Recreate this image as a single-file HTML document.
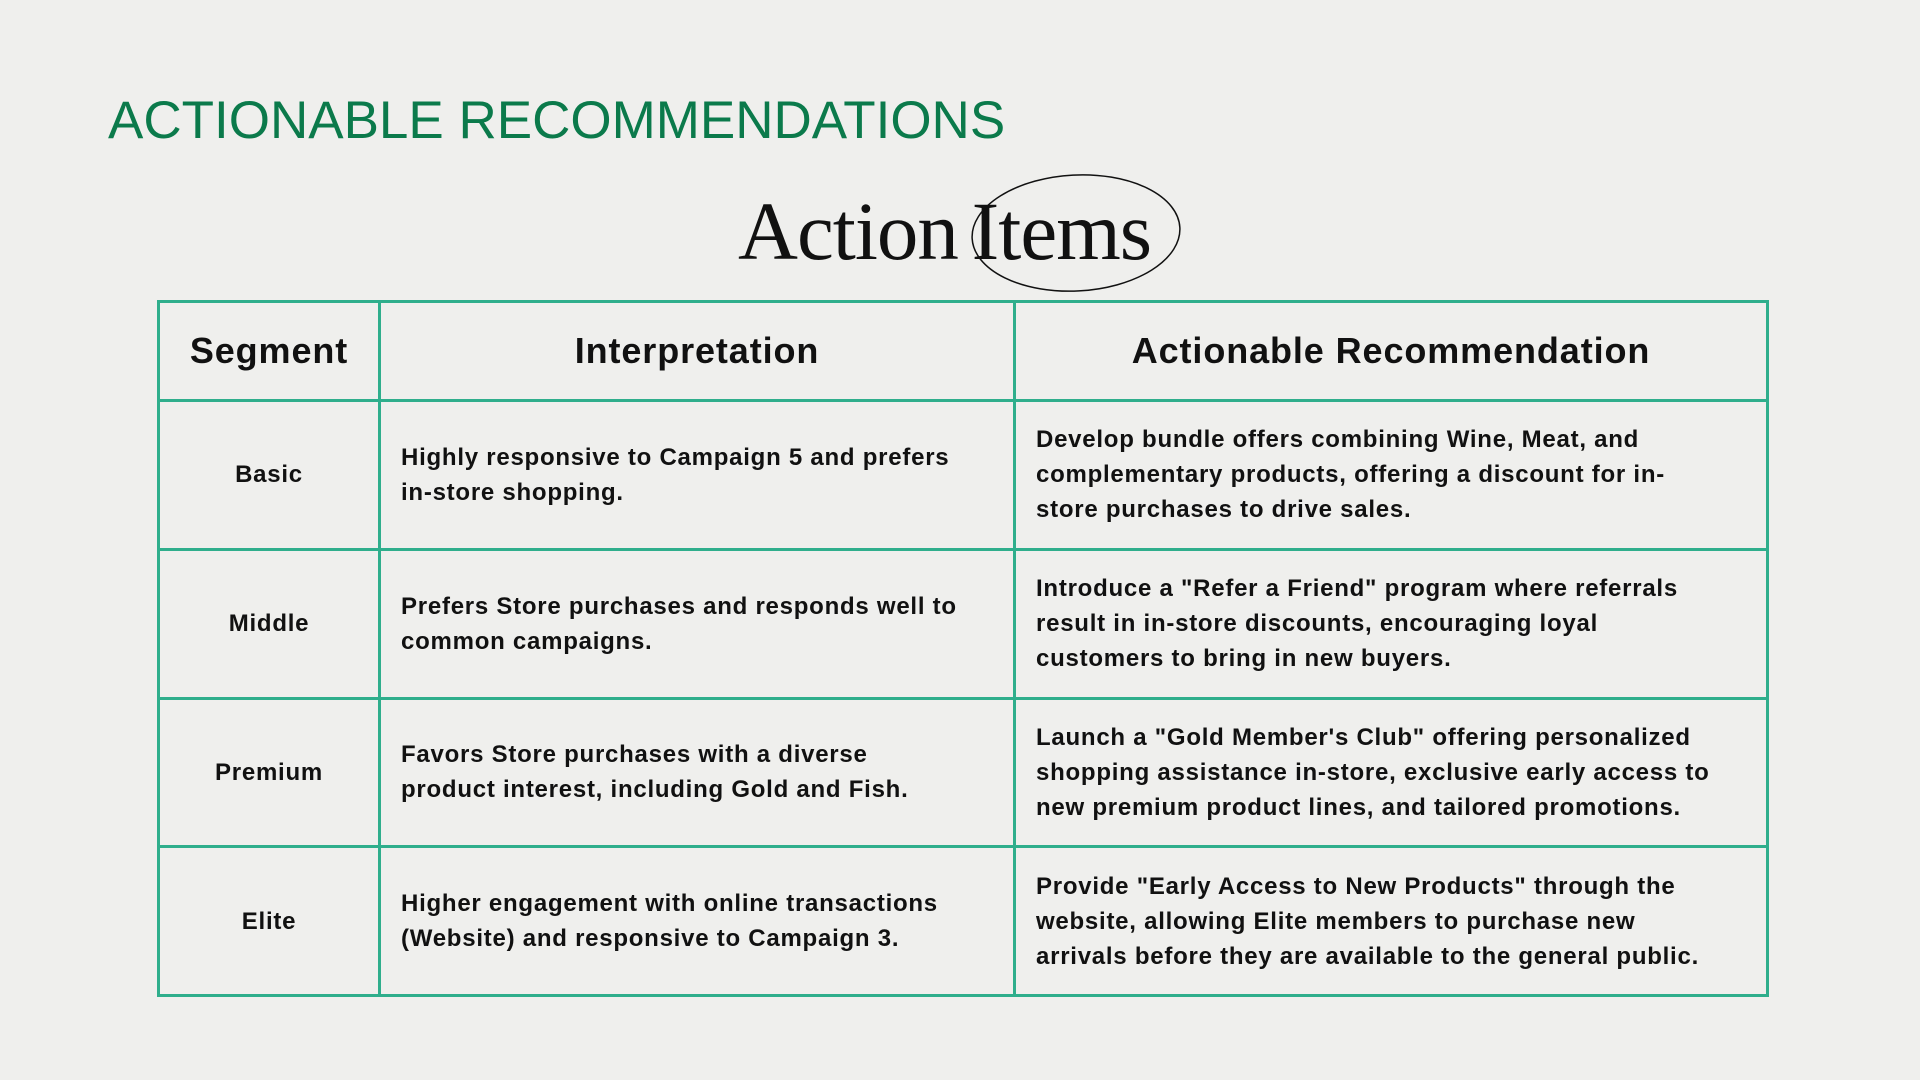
<!DOCTYPE html>
<html><head><meta charset="utf-8"><style>
html,body{margin:0;padding:0}
body{width:1920px;height:1080px;background:#efefed;position:relative;overflow:hidden;font-family:"Liberation Sans",sans-serif}
#title{position:absolute;left:108px;top:90px;font-size:53px;color:#0b7a4b;letter-spacing:0;margin:0;font-weight:normal}
#sub{position:absolute;left:738px;top:183px;font-family:"Liberation Serif",serif;font-size:83px;color:#111;letter-spacing:-1px;word-spacing:-6px}
#ell{position:absolute;left:0;top:0}
table{position:absolute;left:157px;top:300px;width:1612px;height:697px;border-collapse:collapse}
td,th{border:3px solid #2fae8c;color:#111;font-weight:bold}
th{font-size:36px;height:94px;letter-spacing:0.9px}
td{font-size:24px;line-height:35px;padding:0 20px;letter-spacing:0.75px;white-space:nowrap}
td.seg{text-align:center;width:140px}
</style></head><body>
<h1 id="title">ACTIONABLE RECOMMENDATIONS</h1>
<div id="sub">Action Items</div>
<svg id="ell" width="1920" height="400"><ellipse cx="1076" cy="233" rx="104" ry="58" fill="none" stroke="#111" stroke-width="1.5" transform="rotate(-3 1076 233)"/></svg>
<table>
<tr><th style="width:216px">Segment</th><th style="width:630px">Interpretation</th><th>Actionable Recommendation</th></tr>
<tr><td class="seg">Basic</td><td>Highly responsive to Campaign 5 and prefers<br>in-store shopping.</td><td>Develop bundle offers combining Wine, Meat, and<br>complementary products, offering a discount for in-<br>store purchases to drive sales.</td></tr>
<tr><td class="seg">Middle</td><td>Prefers Store purchases and responds well to<br>common campaigns.</td><td>Introduce a "Refer a Friend" program where referrals<br>result in in-store discounts, encouraging loyal<br>customers to bring in new buyers.</td></tr>
<tr><td class="seg">Premium</td><td>Favors Store purchases with a diverse<br>product interest, including Gold and Fish.</td><td>Launch a "Gold Member's Club" offering personalized<br>shopping assistance in-store, exclusive early access to<br>new premium product lines, and tailored promotions.</td></tr>
<tr><td class="seg">Elite</td><td>Higher engagement with online transactions<br>(Website) and responsive to Campaign 3.</td><td>Provide "Early Access to New Products" through the<br>website, allowing Elite members to purchase new<br>arrivals before they are available to the general public.</td></tr>
</table>
</body></html>
